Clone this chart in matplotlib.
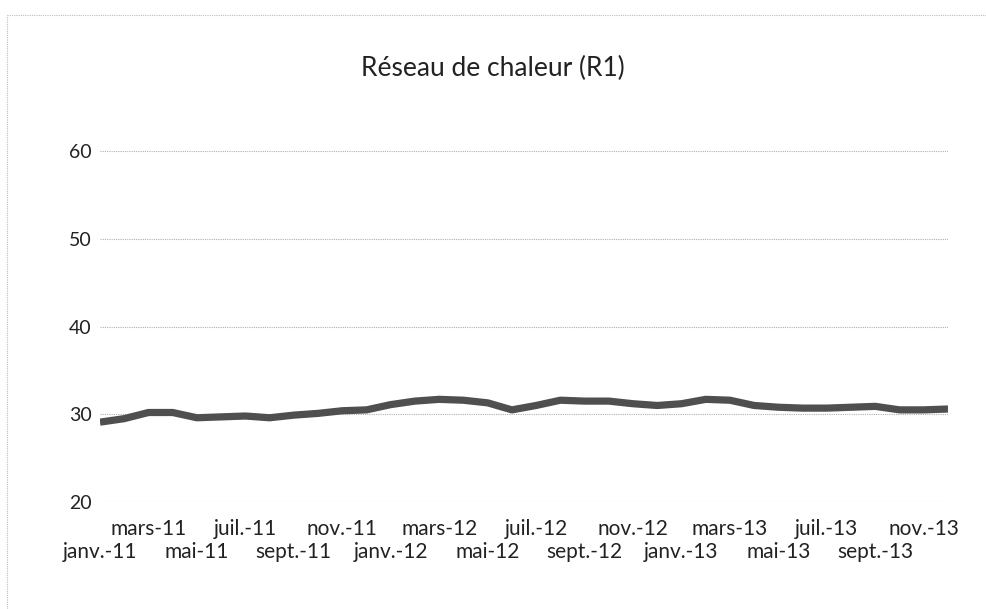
import matplotlib.pyplot as plt
from matplotlib.lines import Line2D

# Monthly values, janv.-11 .. déc.-13
months = ['janv.', 'févr.', 'mars', 'avr.', 'mai', 'juin',
          'juil.', 'août', 'sept.', 'oct.', 'nov.', 'déc.']
years = ['11', '12', '13']
labels = [f'{m}-{y}' for y in years for m in months]

r1 = [29.1, 29.5, 30.2, 30.2, 29.6, 29.7, 29.8, 29.6, 29.9, 30.1, 30.4, 30.5,
      31.1, 31.5, 31.7, 31.6, 31.3, 30.5, 31.0, 31.6, 31.5, 31.5, 31.2, 31.0,
      31.2, 31.7, 31.6, 31.0, 30.8, 30.7, 30.7, 30.8, 30.9, 30.5, 30.5, 30.6]

y_ticks = [20, 30, 40, 50, 60]
title = 'Réseau de chaleur (R1)'

plt.rcParams['font.family'] = ['Lato', 'DejaVu Sans']

fig = plt.figure(figsize=(9.87, 6.09), dpi=100)
ax = fig.add_axes([0.1013, 0.1757, 0.8592, 0.5763])

x = list(range(len(r1)))
ax.plot(x, r1, color='#4f4f4f', lw=5.2, solid_joinstyle='round',
        solid_capstyle='butt')

ax.set_xlim(0, len(r1) - 1)
ax.set_ylim(20, 60)
ax.set_yticks(y_ticks)
ax.grid(axis='y', color='#b0b0b0', lw=0.8, ls=(0, (1, 1)))
ax.set_axisbelow(True)

# every second month labelled, staggered: mars/juil./nov. on the upper row
# (major ticks), janv./mai/sept. on the lower row (minor ticks)
upper = x[2::4]
lower = x[0::4]
ax.set_xticks(upper)
ax.set_xticklabels([labels[i] for i in upper])
ax.set_xticks(lower, minor=True)
ax.set_xticklabels([labels[i] for i in lower], minor=True)

ax.tick_params(axis='x', which='major', length=0, pad=12, labelsize=15,
               colors='#222222')
ax.tick_params(axis='x', which='minor', length=0, pad=29, labelsize=15,
               colors='#222222')
ax.tick_params(axis='y', length=0, pad=6, labelsize=14, colors='#222222')
for s in ax.spines.values():
    s.set_visible(False)

fig.text(0.4995, 0.888, title, ha='center', va='center', fontsize=19,
         color='#222222')

# chart area frame
frame_kw = dict(color='#bdbdbd', lw=0.8, ls=(0, (1, 1)), transform=fig.transFigure)
fig.add_artist(Line2D([0.007, 1.0], [0.975, 0.975], **frame_kw))
fig.add_artist(Line2D([0.007, 0.007], [0.0, 0.975], **frame_kw))

fig.savefig('out.png', dpi=100)
